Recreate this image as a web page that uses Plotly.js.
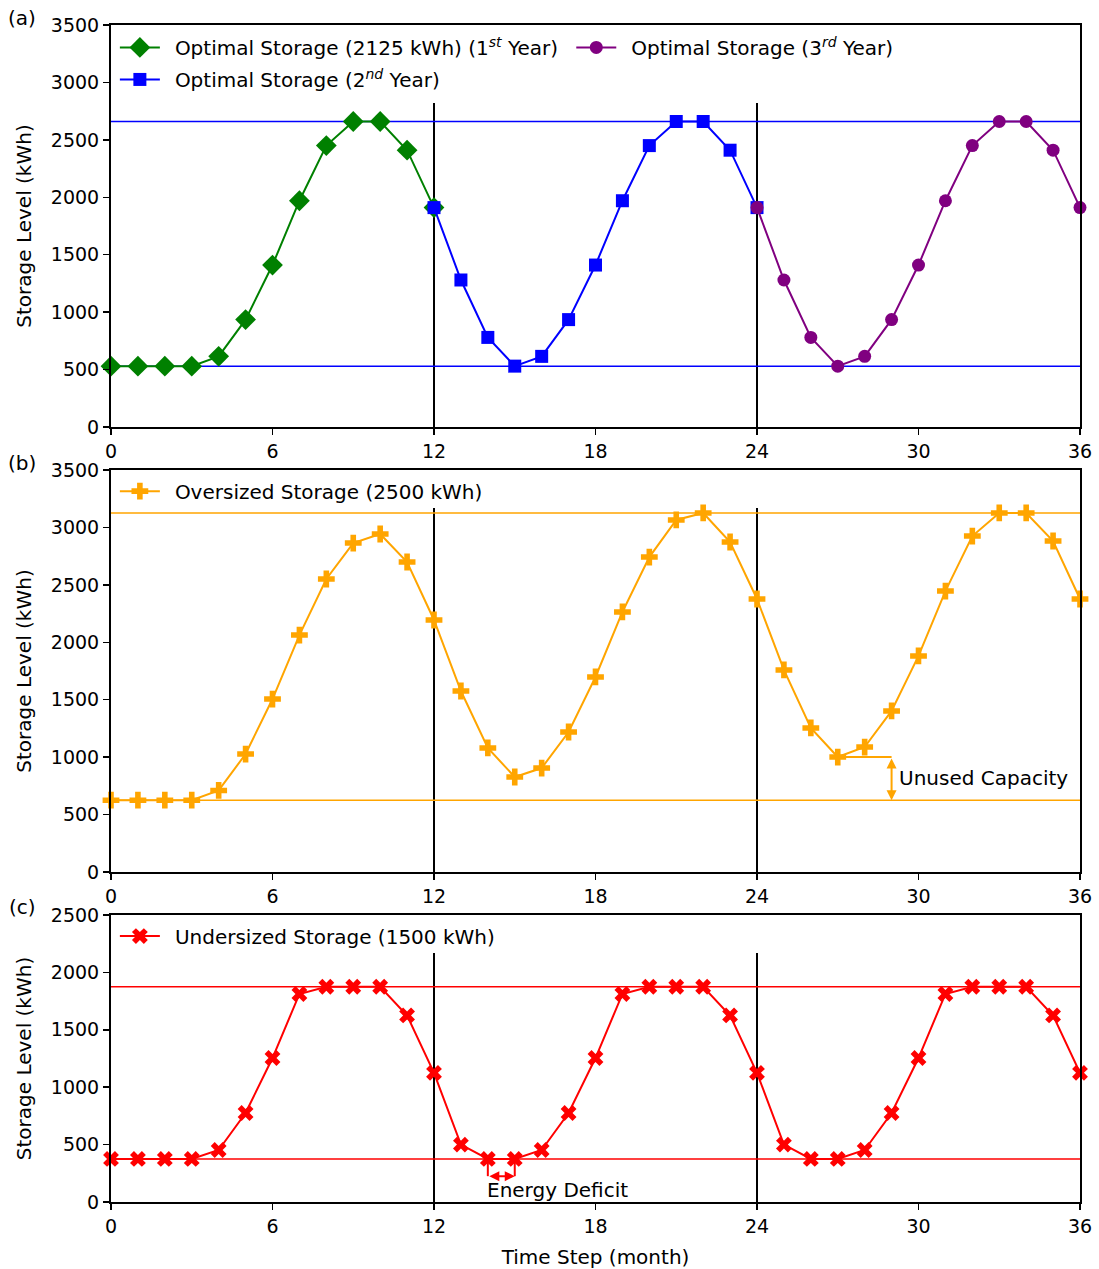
<!DOCTYPE html>
<html>
<head>
<meta charset="utf-8">
<script src="https://cdn.plot.ly/plotly-3.0.1.min.js"></script>
<style>
html,body{margin:0;padding:0;background:#fff;}
#chart{width:1099px;height:1269px;}
</style>
</head>
<body>
<div id="chart"></div>
<script>
// ---------------- DATA ----------------
const year1Months = [0,1,2,3,4,5,6,7,8,9,10,11,12];
const year2Months = [12,13,14,15,16,17,18,19,20,21,22,23,24];
const year3Months = [24,25,26,27,28,29,30,31,32,33,34,35,36];
const allMonths = [0,1,2,3,4,5,6,7,8,9,10,11,12,13,14,15,16,17,18,19,20,21,22,23,24,25,26,27,28,29,30,31,32,33,34,35,36];

const optimalYear1 = [530,530,530,530,615,935,1410,1970,2450,2660,2660,2410,1910];
const optimalYear2 = [1910,1280,780,530,615,935,1410,1970,2450,2660,2660,2410,1910];
const optimalYear3 = [1910,1280,780,530,615,935,1410,1970,2450,2660,2660,2410,1910];
const optimalBounds = [530, 2660];

const oversized = [625,625,625,625,710,1027,1506,2063,2551,2864,2943,2699,2194,1576,1080,827,905,1219,1698,2264,2742,3065,3126,2873,2377,1759,1254,1001,1088,1402,1881,2446,2925,3126,3126,2882,2377];
const oversizedBounds = [625, 3126];

const undersized = [375,375,375,375,453,775,1254,1812,1875,1875,1875,1625,1125,500,375,375,453,775,1254,1812,1875,1875,1875,1625,1125,500,375,375,453,775,1254,1812,1875,1875,1875,1625,1125];
const undersizedBounds = [375, 1875];

const yearBoundaries = [12, 24];
const boundaryTops = [2820, 3170, 2170];   // top of the year separator line in each panel

const xTicks = [0,6,12,18,24,30,36];
const SP = '\u2002';
const traceNames = {
  y1: SP + 'Optimal Storage (2125 kWh) (1<sup><i>st</i></sup> Year)',
  y2: SP + 'Optimal Storage (2<sup><i>nd</i></sup> Year)',
  y3: SP + 'Optimal Storage (3<sup><i>rd</i></sup> Year)',
  over: SP + 'Oversized Storage (2500 kWh)',
  under: SP + 'Undersized Storage (1500 kWh)'
};
const unusedCapacity = {x0: 27, xArrow: 29, top: 1001, bottom: 625, textX: 29.2, textY: 818, text: 'Unused Capacity'};
const energyDeficit = {x0: 14, x1: 15, level: 375, arrowY: 225, textX: 16.6, textY: 105, text: 'Energy Deficit'};

// ---------------- STYLE ----------------
const FONT = 'DejaVu Sans, sans-serif';
const FS = 20;      // label font
const TFS = 19;     // tick font
const GREEN = '#008000', BLUE = '#0000ff', PURPLE = '#800080', ORANGE = '#ffa500', RED = '#ff0000';

const traces = [];
function hline(xa, ya, y, color){
  const xr = [xTicks[0], xTicks[xTicks.length-1]];
  traces.push({x: xr, y: [y, y], type:'scatter', mode:'lines', xaxis: xa, yaxis: ya,
               line:{color: color, width: 1.5}, showlegend:false, hoverinfo:'skip'});
}
optimalBounds.forEach(v => hline('x','y',v,BLUE));
oversizedBounds.forEach(v => hline('x2','y2',v,ORANGE));
undersizedBounds.forEach(v => hline('x3','y3',v,RED));

function series(x, y, color, symbol, size, name, xa, ya, legend, group){
  return {
    x: x, y: y, type: 'scatter', mode: 'lines+markers', name: name,
    xaxis: xa, yaxis: ya, legend: legend, legendgroup: group,
    line: {color: color, width: 2},
    marker: {color: color, symbol: symbol, size: size},
    cliponaxis: false
  };
}

traces.push(
  series(year1Months, optimalYear1, GREEN, 'diamond', 16, traceNames.y1, 'x', 'y', 'legend', 'g1'),
  series(year2Months, optimalYear2, BLUE, 'square', 13, traceNames.y2, 'x', 'y', 'legend', 'g2'),
  series(year3Months, optimalYear3, PURPLE, 'circle', 13, traceNames.y3, 'x', 'y', 'legend2', 'g3'),
  series(allMonths, oversized, ORANGE, 'cross', 14, traceNames.over, 'x2', 'y2', 'legend3', 'g4'),
  series(allMonths, undersized, RED, 'x', 14, traceNames.under, 'x3', 'y3', 'legend4', 'g5')
);

const shapes = [];
[['x','y'],['x2','y2'],['x3','y3']].forEach((ax, i) => {
  yearBoundaries.forEach(b => {
    shapes.push({type:'line', xref: ax[0], yref: ax[1], x0: b, x1: b, y0: 0, y1: boundaryTops[i],
                 line:{color:'#000', width: 2}, layer:'below'});
  });
});
// unused capacity horizontal leader
shapes.push({type:'line', xref:'x2', yref:'y2', x0: unusedCapacity.x0, x1: unusedCapacity.xArrow,
             y0: unusedCapacity.top, y1: unusedCapacity.top, line:{color: ORANGE, width: 2}});
// energy deficit verticals
[energyDeficit.x0, energyDeficit.x1].forEach(xv => {
  shapes.push({type:'line', xref:'x3', yref:'y3', x0: xv, x1: xv, y0: energyDeficit.level, y1: energyDeficit.arrowY,
               line:{color: RED, width: 2}});
});

const lblFont = {family:FONT,size:FS,color:'#000'};
const annotations = [
  {xref:'paper', yref:'paper', x:-0.0918, y:1.0059, xanchor:'center', yanchor:'middle', text:'(a)', showarrow:false, font:lblFont},
  {xref:'paper', yref:'paper', x:-0.0918, y:0.6279, xanchor:'center', yanchor:'middle', text:'(b)', showarrow:false, font:lblFont},
  {xref:'paper', yref:'paper', x:-0.0918, y:0.2506, xanchor:'center', yanchor:'middle', text:'(c)', showarrow:false, font:lblFont},
  {xref:'x2', yref:'y2', axref:'x2', ayref:'y2', x: unusedCapacity.xArrow, y: unusedCapacity.bottom,
   ax: unusedCapacity.xArrow, ay: unusedCapacity.top, text:'', showarrow:true, arrowside:'end+start',
   arrowhead:2, startarrowhead:2, arrowsize:1, startarrowsize:1, arrowwidth:2, arrowcolor: ORANGE},
  {xref:'x2', yref:'y2', x: unusedCapacity.textX, y: unusedCapacity.textY, text: unusedCapacity.text,
   showarrow:false, xanchor:'left', yanchor:'middle', font:lblFont},
  {xref:'x3', yref:'y3', axref:'x3', ayref:'y3', x: energyDeficit.x1, y: energyDeficit.arrowY,
   ax: energyDeficit.x0, ay: energyDeficit.arrowY, text:'', showarrow:true, arrowside:'end+start',
   arrowhead:2, startarrowhead:2, arrowsize:1, startarrowsize:1, arrowwidth:2, arrowcolor: RED},
  {xref:'x3', yref:'y3', x: energyDeficit.textX, y: energyDeficit.textY, text: energyDeficit.text,
   showarrow:false, xanchor:'center', yanchor:'middle', font:lblFont}
];

function xaxis(anchor, domainTitle){
  const a = {
    anchor: anchor, range:[0,36], tickvals: xTicks, ticktext: xTicks.map(String),
    ticks:'outside', ticklen:6, tickwidth:1.5, tickcolor:'#000',
    showline:true, linecolor:'#000', linewidth:2, mirror:true, showgrid:false, zeroline:false,
    tickfont:{family:FONT,size:TFS,color:'#000'}
  };
  if (domainTitle) a.title = {text: domainTitle, font:lblFont, standoff: 14};
  return a;
}
function yaxis(anchor, domain, top){
  return {
    anchor: anchor, domain: domain, range:[0, top], dtick: 500, tick0: 0,
    ticks:'outside', ticklen:6, tickwidth:1.5, tickcolor:'#000',
    showline:true, linecolor:'#000', linewidth:2, mirror:true, showgrid:false, zeroline:false,
    tickfont:{family:FONT,size:TFS,color:'#000'},
    title:{text:'Storage Level (kWh)', font:lblFont, standoff: 14}
  };
}
function legendAt(x, y){
  return {x:x, y:y, xanchor:'left', yanchor:'top', bgcolor:'rgba(255,255,255,0)', borderwidth:0,
          font:lblFont, traceorder:'grouped', tracegroupgap:3, itemwidth:40};
}

const layout = {
  width:1099, height:1269,
  margin:{l:111, r:19, t:25, b:67},
  paper_bgcolor:'#fff', plot_bgcolor:'#fff',
  font:{family:FONT, size:FS, color:'#000'},
  showlegend:true,
  xaxis: xaxis('y'),
  yaxis: yaxis('x', [0.65845, 1], 3500),
  xaxis2: xaxis('y2'),
  yaxis2: yaxis('x2', [0.28037, 0.62192], 3500),
  xaxis3: xaxis('y3', 'Time Step (month)'),
  yaxis3: yaxis('x3', [0, 0.24384], 2500),
  legend: legendAt(0.004, 0.9975),
  legend2: legendAt(0.475, 0.9975),
  legend3: legendAt(0.004, 0.6205),
  legend4: legendAt(0.004, 0.2425),
  shapes: shapes,
  annotations: annotations
};

Plotly.newPlot('chart', traces, layout, {displayModeBar:false, staticPlot:true});
</script>
</body>
</html>
